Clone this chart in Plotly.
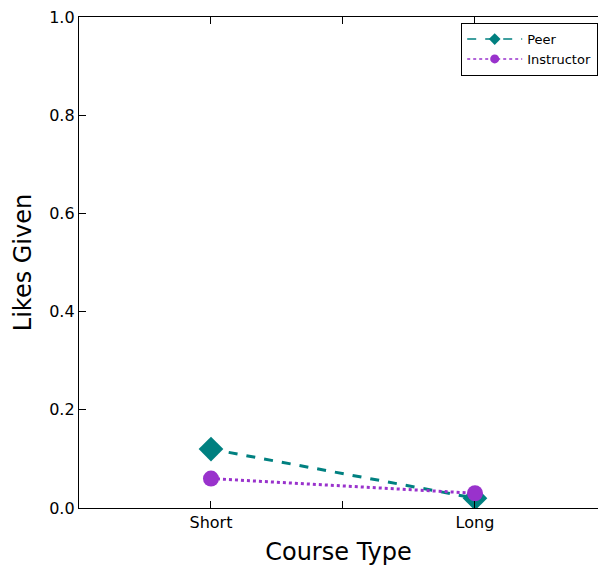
import plotly.graph_objects as go

categories = ["Short", "Long"]
peer = [0.12, 0.02]
instructor = [0.06, 0.03]
y_ticks = [0.0, 0.2, 0.4, 0.6, 0.8, 1.0]

xpos = list(range(len(categories)))
teal = "#008080"
purple = "#9932CC"

fig = go.Figure()
fig.add_trace(go.Scatter(
    x=xpos, y=peer, name="Peer", mode="lines+markers", showlegend=False,
    line=dict(color=teal, width=3, dash="dash"),
    marker=dict(symbol="diamond", size=19, color=teal),
))
fig.add_trace(go.Scatter(
    x=xpos, y=instructor, name="Instructor", mode="lines+markers", showlegend=False,
    line=dict(color=purple, width=3, dash="dot"),
    marker=dict(symbol="circle", size=16, color=purple),
))
# legend entries with small markers
fig.add_trace(go.Scatter(
    x=[None], y=[None], name="Peer", mode="lines+markers",
    line=dict(color=teal, width=1.5, dash="dash"),
    marker=dict(symbol="diamond", size=9, color=teal),
))
fig.add_trace(go.Scatter(
    x=[None], y=[None], name="Instructor", mode="lines+markers",
    line=dict(color=purple, width=1.5, dash="dot"),
    marker=dict(symbol="circle", size=9, color=purple),
))

axis_font = dict(family="DejaVu Sans", size=16, color="black")
fig.update_layout(
    width=598, height=569,
    margin=dict(l=79, r=0, t=17, b=61),
    plot_bgcolor="white", paper_bgcolor="white",
    font=dict(family="DejaVu Sans", color="black"),
    showlegend=True,
    legend=dict(
        x=1.0, y=0.988, xanchor="right", yanchor="top",
        bgcolor="white", bordercolor="black", borderwidth=1.2,
        font=dict(family="DejaVu Sans", size=13, color="black"),
        itemwidth=55, tracegroupgap=0,
    ),
    xaxis=dict(
        range=[-0.5, 1.466],
        tickvals=[0, 0.5, 1], ticktext=["Short", "", "Long"],
        ticks="inside", ticklen=7, tickwidth=1, tickcolor="black",
        showline=True, linecolor="black", linewidth=1.3, mirror="ticks",
        showgrid=False, zeroline=False,
        tickfont=axis_font,
        title=dict(text="Course Type", font=dict(family="DejaVu Sans", size=24), standoff=11),
    ),
    yaxis=dict(
        range=[0, 1.0],
        tickvals=y_ticks, tickformat=".1f",
        ticks="inside", ticklen=7, tickwidth=1, tickcolor="black",
        showline=True, linecolor="black", linewidth=1.3, mirror=False,
        showgrid=False, zeroline=False,
        tickfont=axis_font,
        title=dict(text="Likes Given", font=dict(family="DejaVu Sans", size=24), standoff=10),
    ),
)

fig.write_html("out.html")
